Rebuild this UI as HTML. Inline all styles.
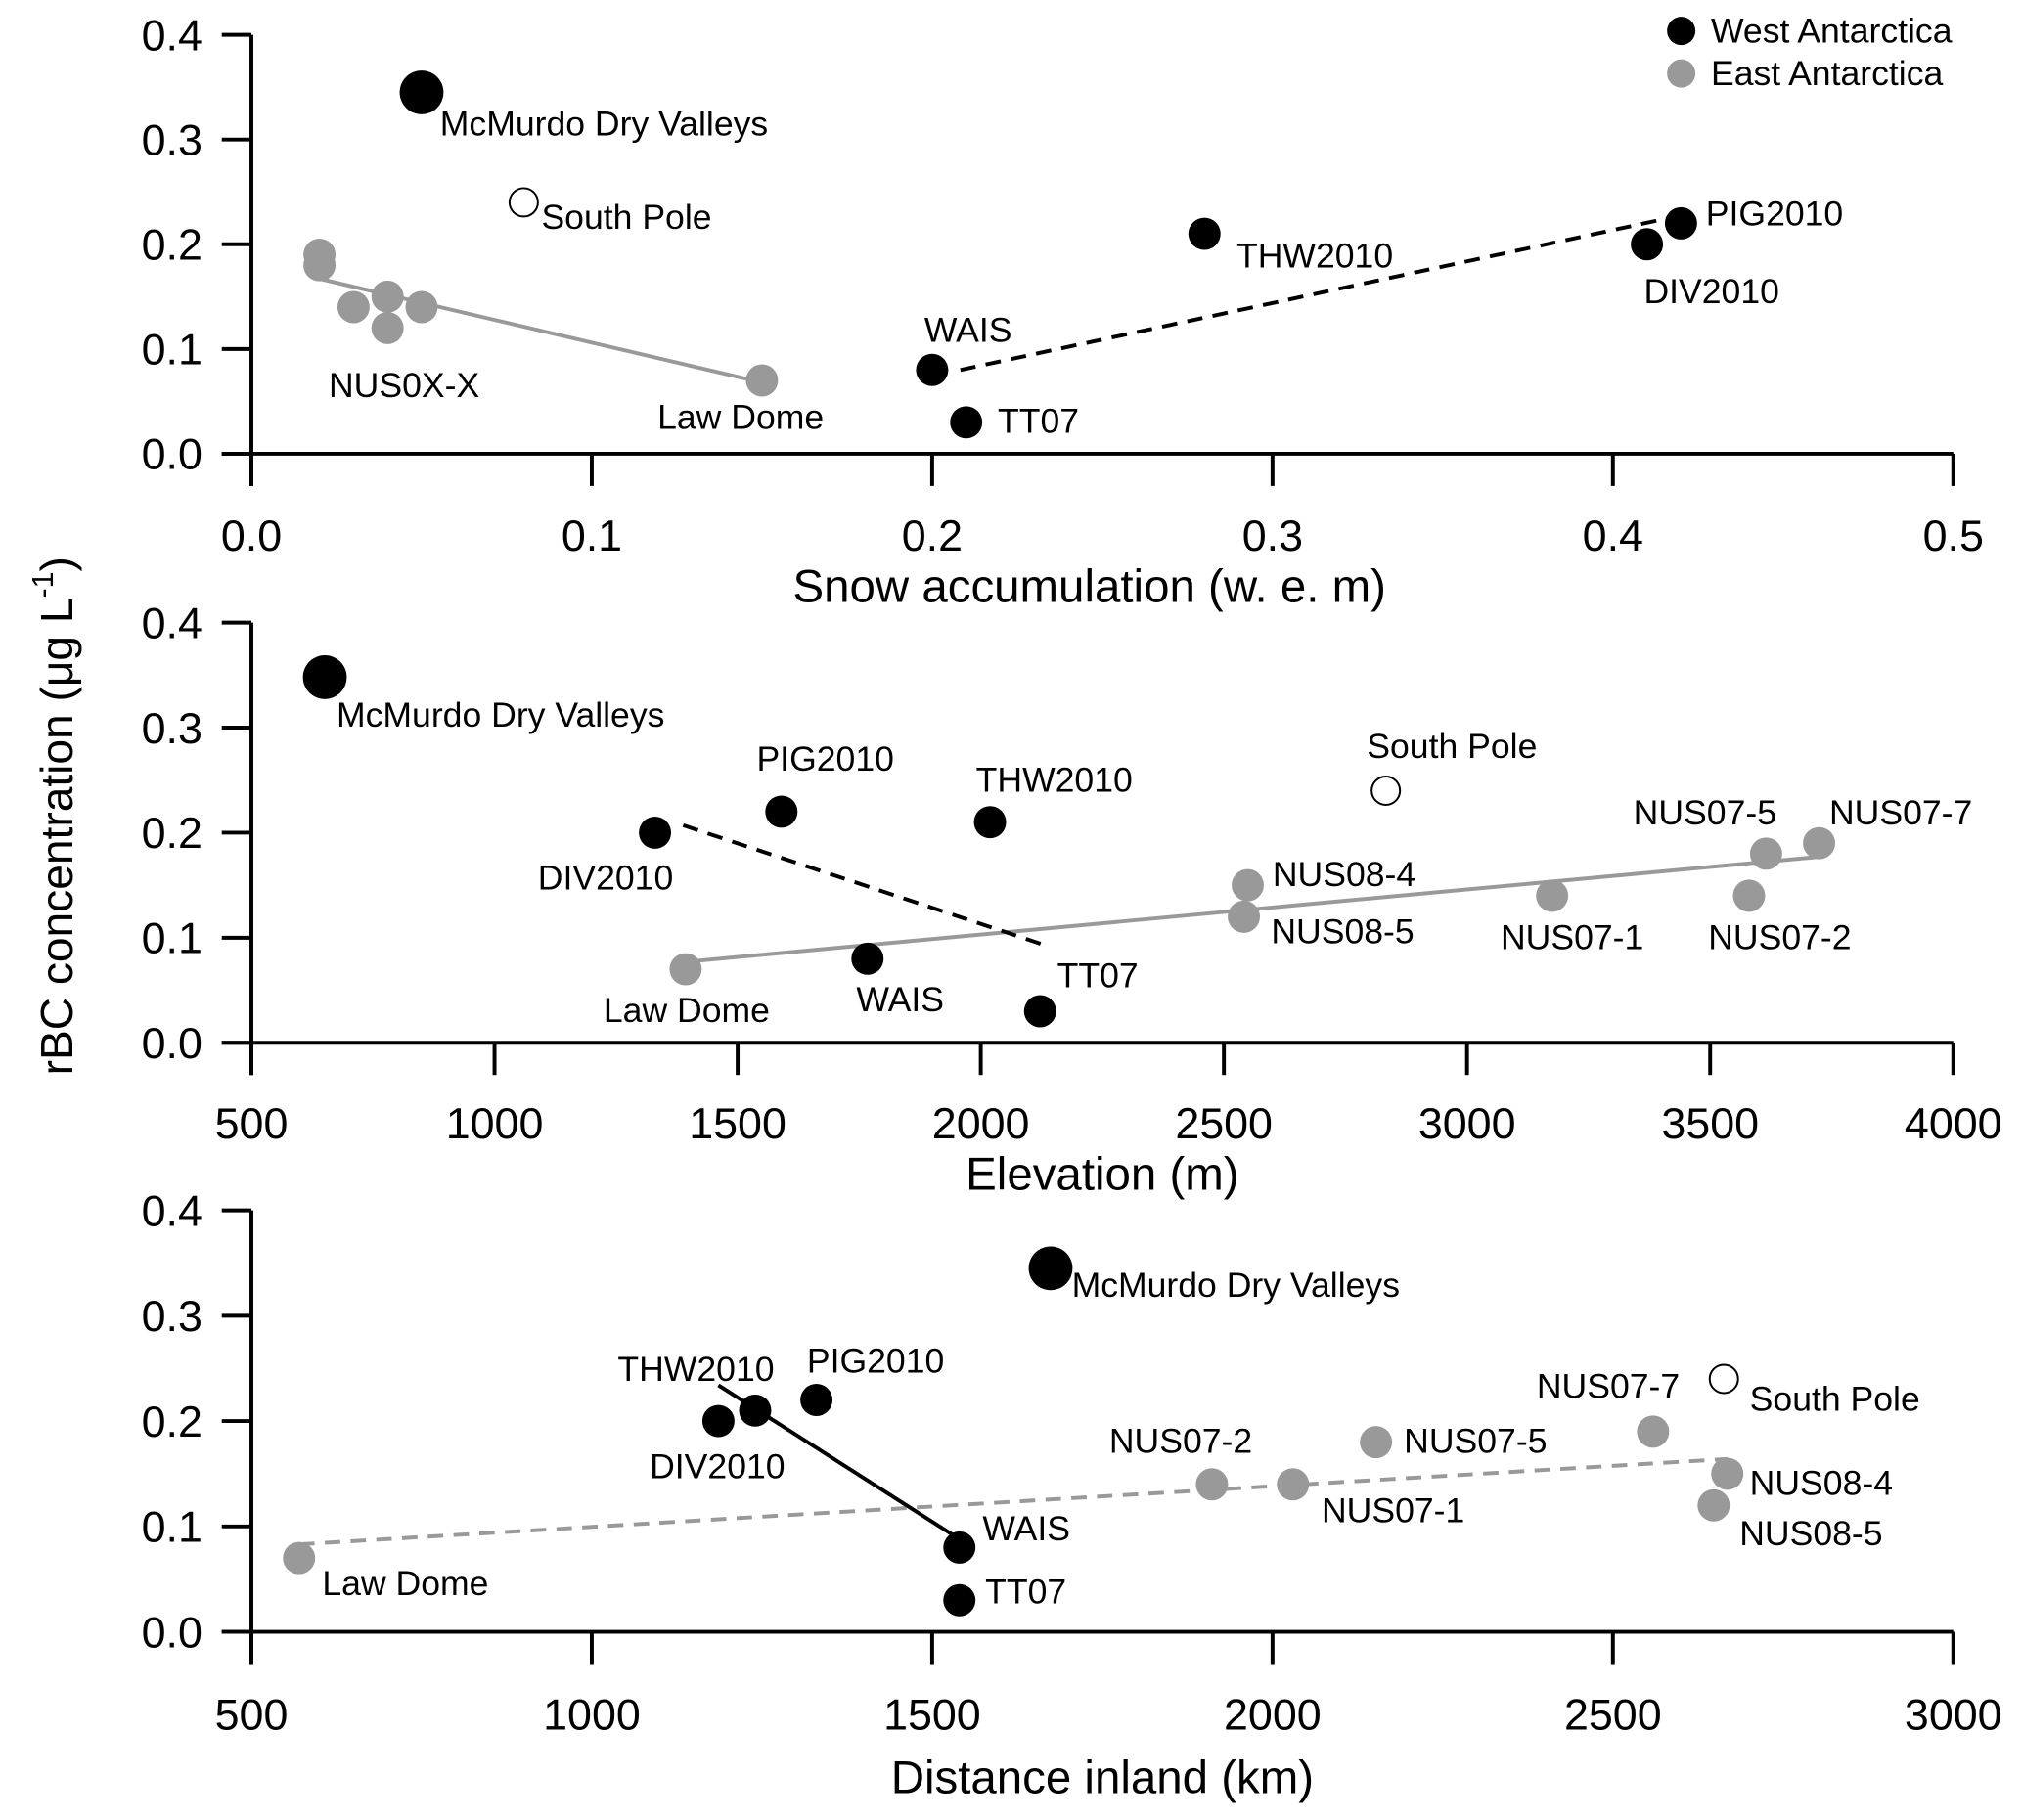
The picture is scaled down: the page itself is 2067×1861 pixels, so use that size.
<!DOCTYPE html>
<html><head><meta charset="utf-8"><style>
html,body{margin:0;padding:0;background:#fff;}
svg{display:block;font-family:"Liberation Sans",Arial,sans-serif;}
</style></head><body>
<svg id="fig" width="2067" height="1861" viewBox="0 0 1568.3 1412" xmlns="http://www.w3.org/2000/svg">
<g>
<circle cx="1304" cy="24" r="11" fill="#000"/>
<text x="1327" y="33" font-size="27">West Antarctica</text>
<circle cx="1304" cy="57" r="11" fill="#999"/>
<text x="1327" y="66" font-size="27">East Antarctica</text>
</g>
<text transform="translate(56,633) rotate(-90)" text-anchor="middle" font-size="35">rBC concentration (μg L<tspan dy="-15" font-size="23">-1</tspan><tspan dy="15">)</tspan></text>
</svg>
<script>
// ---- Panel 1: snow accumulation ----
const p1Names = ["McMurdo Dry Valleys","South Pole","NUS-a","NUS-b","NUS-c","NUS-d","NUS-e","NUS-f","Law Dome","WAIS","TT07","THW2010","DIV2010","PIG2010"];
const p1X = [0.05,0.08,0.02,0.02,0.03,0.04,0.04,0.05,0.15,0.2,0.21,0.28,0.41,0.42];
const p1Y = [0.345,0.24,0.19,0.18,0.14,0.15,0.12,0.14,0.07,0.08,0.03,0.21,0.2,0.22];
const p1Type = ["big","open","east","east","east","east","east","east","east","west","west","west","west","west"];
const p1XTicks = [0,0.1,0.2,0.3,0.4,0.5];
const p1XTickLabels = ["0.0","0.1","0.2","0.3","0.4","0.5"];
const p1EastTrendX = [0.02,0.15];
const p1EastTrendY = [0.167,0.068];
const p1WestTrendX = [0.2083,0.4186];
const p1WestTrendY = [0.08,0.2265];
const p1LabelText = ["McMurdo Dry Valleys","South Pole","NUS0X-X","Law Dome","WAIS","TT07","THW2010","PIG2010","DIV2010"];
const p1LabelX = [0.0554,0.0852,0.0227,0.1193,0.1977,0.2193,0.2894,0.4273,0.4091];
const p1LabelY = [0.315,0.226,0.065,0.035,0.118,0.031,0.189,0.229,0.155];

// ---- Panel 2: elevation ----
const p2X = [651,1590,2019,1330,1767,2122,2833,1393,2549,2541,3175,3615,3580,3724];
const p2Y = [0.348,0.22,0.21,0.2,0.08,0.03,0.24,0.07,0.15,0.12,0.14,0.18,0.14,0.19];
const p2Type = ["big","west","west","west","west","west","open","east","east","east","east","east","east","east"];
const p2XTicks = [500,1000,1500,2000,2500,3000,3500,4000];
const p2XTickLabels = ["500","1000","1500","2000","2500","3000","3500","4000"];
const p2WestTrendX = [1388,2125];
const p2WestTrendY = [0.207,0.094];
const p2EastTrendX = [1393,3724];
const p2EastTrendY = [0.077,0.177];
const p2LabelText = ["McMurdo Dry Valleys","PIG2010","THW2010","DIV2010","South Pole","NUS07-5","NUS07-7","NUS08-4","NUS08-5","NUS07-1","NUS07-2","Law Dome","WAIS","TT07"];
const p2LabelX = [675,1539,1990,1089,2794,3342,3745,2600,2597,3069,3496,1224,1744,2157];
const p2LabelY = [0.312,0.27,0.25,0.157,0.282,0.219,0.219,0.16,0.106,0.1,0.1,0.031,0.041,0.064];

// ---- Panel 3: distance inland ----
const p3X = [1674,1330,1240,1186,1540,1540,2663,570,1911,2030,2152,2559,2668,2648];
const p3Y = [0.345,0.22,0.21,0.2,0.08,0.03,0.24,0.07,0.14,0.14,0.18,0.19,0.15,0.12];
const p3Type = ["big","west","west","west","west","west","open","east","east","east","east","east","east","east"];
const p3XTicks = [500,1000,1500,2000,2500,3000];
const p3XTickLabels = ["500","1000","1500","2000","2500","3000"];
const p3WestTrendX = [1186,1540];
const p3WestTrendY = [0.234,0.088];
const p3EastTrendX = [570,2668];
const p3EastTrendY = [0.083,0.164];
const p3LabelText = ["McMurdo Dry Valleys","THW2010","PIG2010","DIV2010","WAIS","TT07","South Pole","Law Dome","NUS07-2","NUS07-1","NUS07-5","NUS07-7","NUS08-4","NUS08-5"];
const p3LabelX = [1705,1038,1316,1085,1574,1578,2701,604,1760,2072,2193,2388,2701,2686];
const p3LabelY = [0.329,0.249,0.257,0.157,0.098,0.038,0.221,0.046,0.181,0.115,0.181,0.233,0.141,0.093];

const yTicks = [0,0.1,0.2,0.3,0.4];
const yTickLabels = ["0.0","0.1","0.2","0.3","0.4"];

const NS = "http://www.w3.org/2000/svg";
const svg = document.getElementById("fig");
function mk(tag, attrs, parent){
  const e = document.createElementNS(NS, tag);
  for (const k in attrs) e.setAttribute(k, attrs[k]);
  parent.appendChild(e);
  return e;
}

function panel(id, cfg){
  const L=195, R=1515, top=cfg.top, bot=cfg.bot;
  const sx = v => L + (v - cfg.xmin)/(cfg.xmax - cfg.xmin)*(R-L);
  const sy = v => bot - v/0.4*(bot-top);
  const g = mk("g", {}, svg);
  
  
  const ax = mk("path", {d:`M${L},${top} V${bot+25} M172,${bot} H${R}`, stroke:"#000","stroke-width":3, fill:"none"}, g);
  
  
  yTicks.forEach((t,i)=>{
    const y = sy(t);
    const tk = mk("line", {x1:172,x2:L,y1:y,y2:y,stroke:"#000","stroke-width":3}, g);
    
    
    const tl = mk("text", {x:157,y:y+12,"text-anchor":"end","font-size":34}, g);
    
    
    tl.textContent = yTickLabels[i];
  });
  cfg.xt.forEach((t,i)=>{
    const x = sx(t);
    const tk = mk("line", {x1:x,x2:x,y1:bot,y2:bot+25,stroke:"#000","stroke-width":3}, g);
    
    
    const tl = mk("text", {x:x,y:cfg.tickY,"text-anchor":"middle","font-size":34}, g);
    
    
    tl.textContent = cfg.xtl[i];
  });
  const tt = mk("text", {x:cfg.titleX,y:cfg.titleY,"text-anchor":"middle","font-size":36}, g);
  
  
  tt.textContent = cfg.title;
  const et = mk("line", {x1:sx(cfg.etx[0]),y1:sy(cfg.ety[0]),x2:sx(cfg.etx[1]),y2:sy(cfg.ety[1]),stroke:"#999","stroke-width":3,"stroke-dasharray":cfg.eDash||"none"}, g);
  
  
  const wt = mk("line", {x1:sx(cfg.wtx[0]),y1:sy(cfg.wty[0]),x2:sx(cfg.wtx[1]),y2:sy(cfg.wty[1]),stroke:"#000","stroke-width":3,"stroke-dasharray":cfg.wDash||"none"}, g);
  
  
  cfg.x.forEach((v,i)=>{
    const ty = cfg.type[i];
    const a = {cx:sx(v), cy:sy(cfg.y[i])};
    if (ty==="big"){a.r=17;a.fill="#000";}
    else if (ty==="open"){a.r=11;a.fill="#fff";a.stroke="#000";a["stroke-width"]=1.5;}
    else if (ty==="east"){a.r=12.5;a.fill="#999";}
    else {a.r=12.5;a.fill="#000";}
    const c = mk("circle", a, g);
    
    
  });
  cfg.lt.forEach((s,i)=>{
    const t = mk("text", {x:sx(cfg.lx[i]),y:sy(cfg.ly[i])+9,"font-size":27}, g);
    
    
    t.textContent = s;
  });
}

panel("snow", {top:27,bot:352,xmin:0,xmax:0.5,xt:p1XTicks,xtl:p1XTickLabels,tickY:427,title:"Snow accumulation (w. e. m)",titleX:845,titleY:467,
  x:p1X,y:p1Y,type:p1Type,etx:p1EastTrendX,ety:p1EastTrendY,wtx:p1WestTrendX,wty:p1WestTrendY,wDash:"12 8",
  lt:p1LabelText,lx:p1LabelX,ly:p1LabelY});
panel("elevation", {top:483,bot:809,xmin:500,xmax:4000,xt:p2XTicks,xtl:p2XTickLabels,tickY:883,title:"Elevation (m)",titleX:855,titleY:923,
  x:p2X,y:p2Y,type:p2Type,etx:p2EastTrendX,ety:p2EastTrendY,wtx:p2WestTrendX,wty:p2WestTrendY,wDash:"12 8",
  lt:p2LabelText,lx:p2LabelX,ly:p2LabelY});
panel("distance", {top:939,bot:1266,xmin:500,xmax:3000,xt:p3XTicks,xtl:p3XTickLabels,tickY:1342,title:"Distance inland (km)",titleX:855,titleY:1391,
  x:p3X,y:p3Y,type:p3Type,etx:p3EastTrendX,ety:p3EastTrendY,wtx:p3WestTrendX,wty:p3WestTrendY,eDash:"12 8",
  lt:p3LabelText,lx:p3LabelX,ly:p3LabelY});
</script>
</body></html>
